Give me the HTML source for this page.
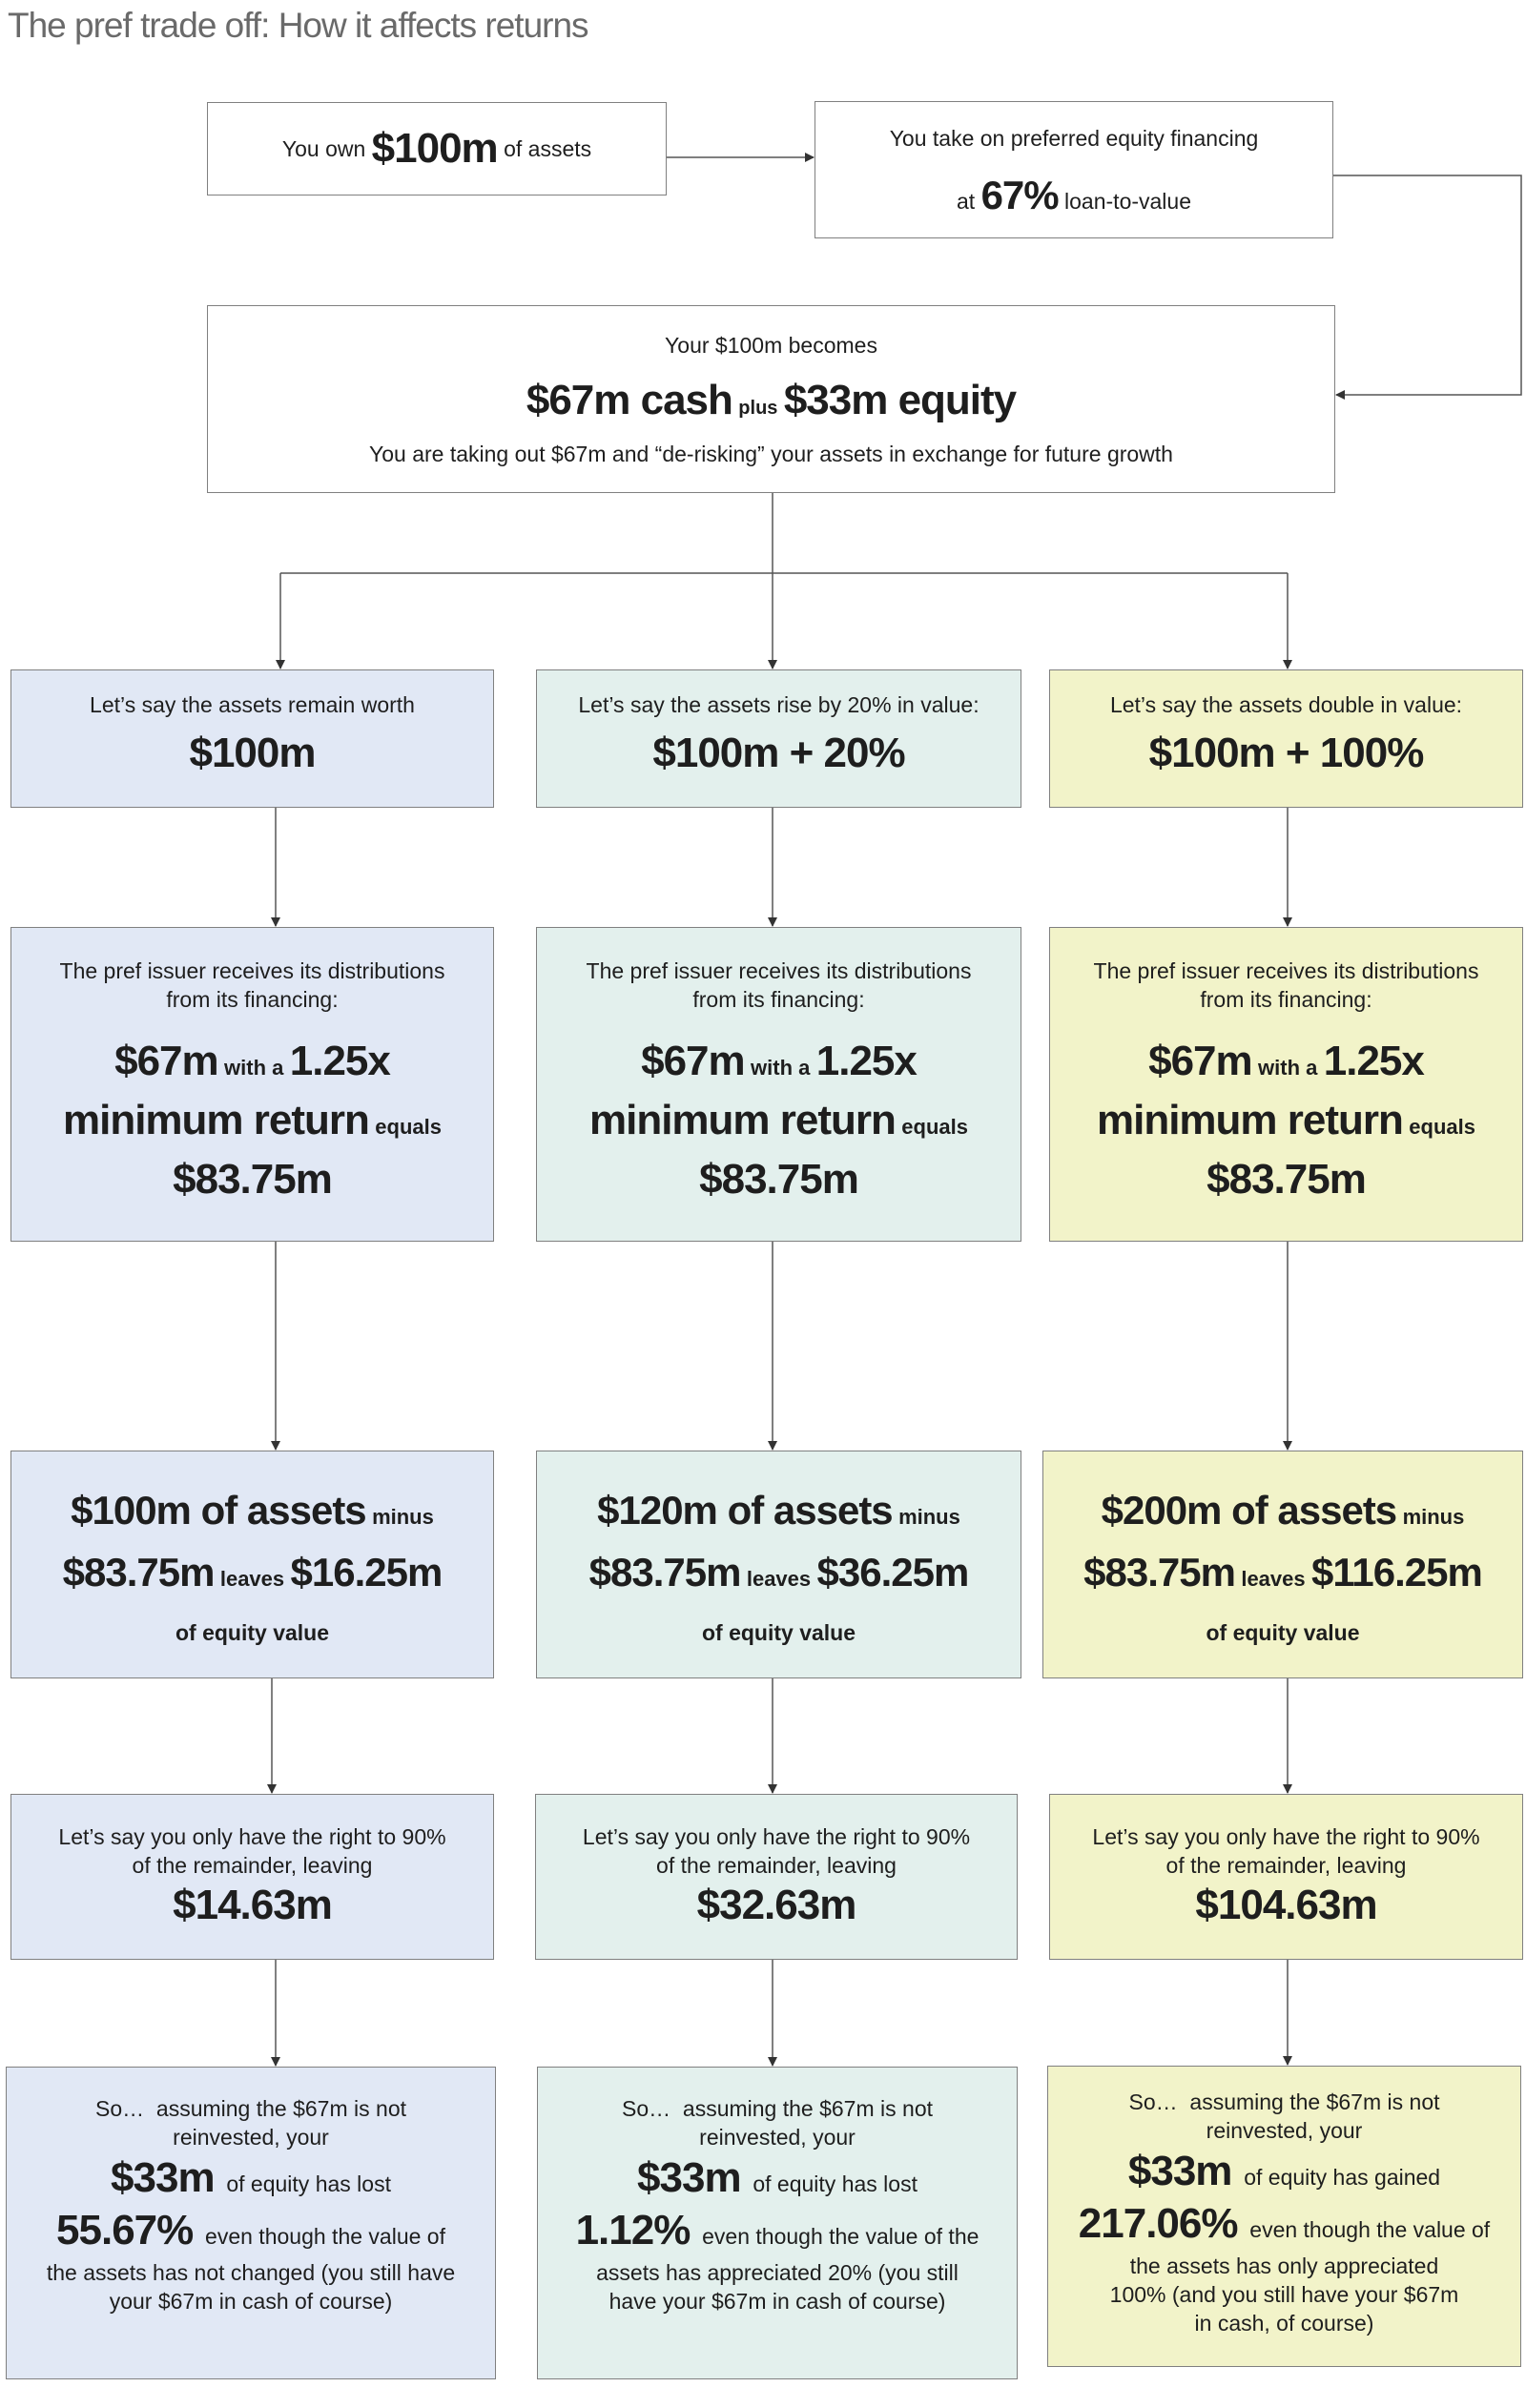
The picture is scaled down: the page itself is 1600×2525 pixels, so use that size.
<!DOCTYPE html>
<html><head><meta charset="utf-8">
<style>
*{margin:0;padding:0;box-sizing:border-box}
body{width:1600px;height:2525px;background:#fff;position:relative;overflow:hidden;font-family:"Liberation Sans",sans-serif;color:#1e1e1e}
.t{position:absolute;left:8px;top:6px;font-size:37px;color:#6a6a6a;letter-spacing:-1px;font-weight:normal}
.bx{position:absolute;border:1.5px solid #808080;display:flex;flex-direction:column;align-items:center;justify-content:center;text-align:center;font-size:23px;line-height:30px}
.b1{background:#e1e8f5}.b2{background:#e3f0ed}.b3{background:#f2f3c9}
.w{background:#fff}
.B{font-weight:bold;letter-spacing:-1px}
.s{font-size:22px;font-weight:bold}
.top{justify-content:flex-start;padding-top:28px}
</style></head><body>
<div class="t">The pref trade off: How it affects returns</div>

<svg width="1600" height="2525" style="position:absolute;left:0;top:0" fill="none" stroke="#555" stroke-width="1.5">
<defs><marker id="a" markerWidth="10" markerHeight="10" refX="9" refY="5" orient="auto" markerUnits="userSpaceOnUse"><path d="M0,0 L10,5 L0,10 Z" fill="#333" stroke="none"/></marker></defs>
<line x1="699" y1="165" x2="853" y2="165" marker-end="url(#a)"/>
<polyline points="1398,184 1595,184 1595,414 1401,414" marker-end="url(#a)"/>
<line x1="810" y1="517" x2="810" y2="601"/>
<line x1="294" y1="601" x2="1350" y2="601"/>
<line x1="294" y1="601" x2="294" y2="701" marker-end="url(#a)"/>
<line x1="810" y1="601" x2="810" y2="701" marker-end="url(#a)"/>
<line x1="1350" y1="601" x2="1350" y2="701" marker-end="url(#a)"/>
<line x1="289" y1="847" x2="289" y2="971" marker-end="url(#a)"/>
<line x1="810" y1="847" x2="810" y2="971" marker-end="url(#a)"/>
<line x1="1350" y1="847" x2="1350" y2="971" marker-end="url(#a)"/>
<line x1="289" y1="1302" x2="289" y2="1520" marker-end="url(#a)"/>
<line x1="810" y1="1302" x2="810" y2="1520" marker-end="url(#a)"/>
<line x1="1350" y1="1302" x2="1350" y2="1520" marker-end="url(#a)"/>
<line x1="285" y1="1760" x2="285" y2="1880" marker-end="url(#a)"/>
<line x1="810" y1="1760" x2="810" y2="1880" marker-end="url(#a)"/>
<line x1="1350" y1="1760" x2="1350" y2="1880" marker-end="url(#a)"/>
<line x1="289" y1="2055" x2="289" y2="2166" marker-end="url(#a)"/>
<line x1="810" y1="2055" x2="810" y2="2166" marker-end="url(#a)"/>
<line x1="1350" y1="2055" x2="1350" y2="2165" marker-end="url(#a)"/>
</svg>

<div class="bx w" style="left:217px;top:107px;width:482px;height:98px;flex-direction:row"><span>You own&nbsp;</span><span class="B" style="font-size:44px;line-height:50px">$100m</span><span>&nbsp;of assets</span></div>
<div class="bx w" style="left:854px;top:106px;width:544px;height:144px"><div style="margin-bottom:30px">You take on preferred equity financing</div><div>at <span class="B" style="font-size:42px">67%</span> loan-to-value</div></div>
<div class="bx w" style="left:217px;top:320px;width:1183px;height:197px"><div>Your $100m becomes</div><div style="margin:18px 0 16px"><span class="B" style="font-size:44px;line-height:50px">$67m cash</span> <span class="s" style="font-size:20px">plus</span> <span class="B" style="font-size:44px">$33m equity</span></div><div>You are taking out $67m and “de-risking” your assets in exchange for future growth</div></div>

<!-- row1 -->
<div class="bx b1" style="left:11px;top:702px;width:507px;height:145px"><div>Let’s say the assets remain worth</div><div class="B" style="font-size:44px;line-height:72px">$100m</div></div>
<div class="bx b2" style="left:562px;top:702px;width:509px;height:145px"><div>Let’s say the assets rise by 20% in value:</div><div class="B" style="font-size:44px;line-height:72px">$100m + 20%</div></div>
<div class="bx b3" style="left:1100px;top:702px;width:497px;height:145px"><div>Let’s say the assets double in value:</div><div class="B" style="font-size:44px;line-height:72px">$100m + 100%</div></div>

<!-- row2 -->
<div class="bx b1" style="left:11px;top:972px;width:507px;height:330px"><div>The pref issuer receives its distributions<br>from its financing:</div><div style="margin-top:22px;line-height:55px"><span class="B" style="font-size:44px">$67m</span> <span class="s">with a</span> <span class="B" style="font-size:44px">1.25x</span><br><span class="B" style="font-size:44px">minimum return</span> <span class="s">equals</span><br><span class="B" style="font-size:44px">$83.75m</span></div></div>
<div class="bx b2" style="left:562px;top:972px;width:509px;height:330px"><div>The pref issuer receives its distributions<br>from its financing:</div><div style="margin-top:22px;line-height:55px"><span class="B" style="font-size:44px">$67m</span> <span class="s">with a</span> <span class="B" style="font-size:44px">1.25x</span><br><span class="B" style="font-size:44px">minimum return</span> <span class="s">equals</span><br><span class="B" style="font-size:44px">$83.75m</span></div></div>
<div class="bx b3" style="left:1100px;top:972px;width:497px;height:330px"><div>The pref issuer receives its distributions<br>from its financing:</div><div style="margin-top:22px;line-height:55px"><span class="B" style="font-size:44px">$67m</span> <span class="s">with a</span> <span class="B" style="font-size:44px">1.25x</span><br><span class="B" style="font-size:44px">minimum return</span> <span class="s">equals</span><br><span class="B" style="font-size:44px">$83.75m</span></div></div>

<!-- row3 -->
<div class="bx b1" style="left:11px;top:1521px;width:507px;height:239px"><div style="line-height:58px"><span class="B" style="font-size:42px">$100m of assets</span> <span class="s">minus</span><br><span class="B" style="font-size:42px">$83.75m</span> <span class="s">leaves</span> <span class="B" style="font-size:42px">$16.25m</span></div><div class="s" style="margin-top:12px;font-size:23px">of equity value</div></div>
<div class="bx b2" style="left:562px;top:1521px;width:509px;height:239px"><div style="line-height:58px"><span class="B" style="font-size:42px">$120m of assets</span> <span class="s">minus</span><br><span class="B" style="font-size:42px">$83.75m</span> <span class="s">leaves</span> <span class="B" style="font-size:42px">$36.25m</span></div><div class="s" style="margin-top:12px;font-size:23px">of equity value</div></div>
<div class="bx b3" style="left:1093px;top:1521px;width:504px;height:239px"><div style="line-height:58px"><span class="B" style="font-size:42px">$200m of assets</span> <span class="s">minus</span><br><span class="B" style="font-size:42px">$83.75m</span> <span class="s">leaves</span> <span class="B" style="font-size:42px">$116.25m</span></div><div class="s" style="margin-top:12px;font-size:23px">of equity value</div></div>

<!-- row4 -->
<div class="bx b1" style="left:11px;top:1881px;width:507px;height:174px"><div>Let’s say you only have the right to 90%<br>of the remainder, leaving</div><div class="B" style="font-size:44px;line-height:54px">$14.63m</div></div>
<div class="bx b2" style="left:561px;top:1881px;width:506px;height:174px"><div>Let’s say you only have the right to 90%<br>of the remainder, leaving</div><div class="B" style="font-size:44px;line-height:54px">$32.63m</div></div>
<div class="bx b3" style="left:1100px;top:1881px;width:497px;height:174px"><div>Let’s say you only have the right to 90%<br>of the remainder, leaving</div><div class="B" style="font-size:44px;line-height:54px">$104.63m</div></div>

<!-- row5 -->
<div class="bx b1 top" style="left:6px;top:2167px;width:514px;height:328px"><div>So…&nbsp; assuming the $67m is not<br>reinvested, your</div><div style="line-height:52px;margin-top:2px"><span class="B" style="font-size:44px">$33m</span>&nbsp; of equity has lost</div><div style="line-height:46px"><span class="B" style="font-size:44px">55.67%</span>&nbsp; even though the value of</div><div>the assets has not changed (you still have<br>your $67m in cash of course)</div></div>
<div class="bx b2 top" style="left:563px;top:2167px;width:504px;height:328px"><div>So…&nbsp; assuming the $67m is not<br>reinvested, your</div><div style="line-height:52px;margin-top:2px"><span class="B" style="font-size:44px">$33m</span>&nbsp; of equity has lost</div><div style="line-height:46px"><span class="B" style="font-size:44px">1.12%</span>&nbsp; even though the value of the</div><div>assets has appreciated 20% (you still<br>have your $67m in cash of course)</div></div>
<div class="bx b3 top" style="left:1098px;top:2166px;width:497px;height:316px;padding-top:22px"><div>So…&nbsp; assuming the $67m is not<br>reinvested, your</div><div style="line-height:52px;margin-top:2px"><span class="B" style="font-size:44px">$33m</span>&nbsp; of equity has gained</div><div style="line-height:46px"><span class="B" style="font-size:44px">217.06%</span>&nbsp; even though the value of</div><div>the assets has only appreciated<br>100% (and you still have your $67m<br>in cash, of course)</div></div>
</body></html>
